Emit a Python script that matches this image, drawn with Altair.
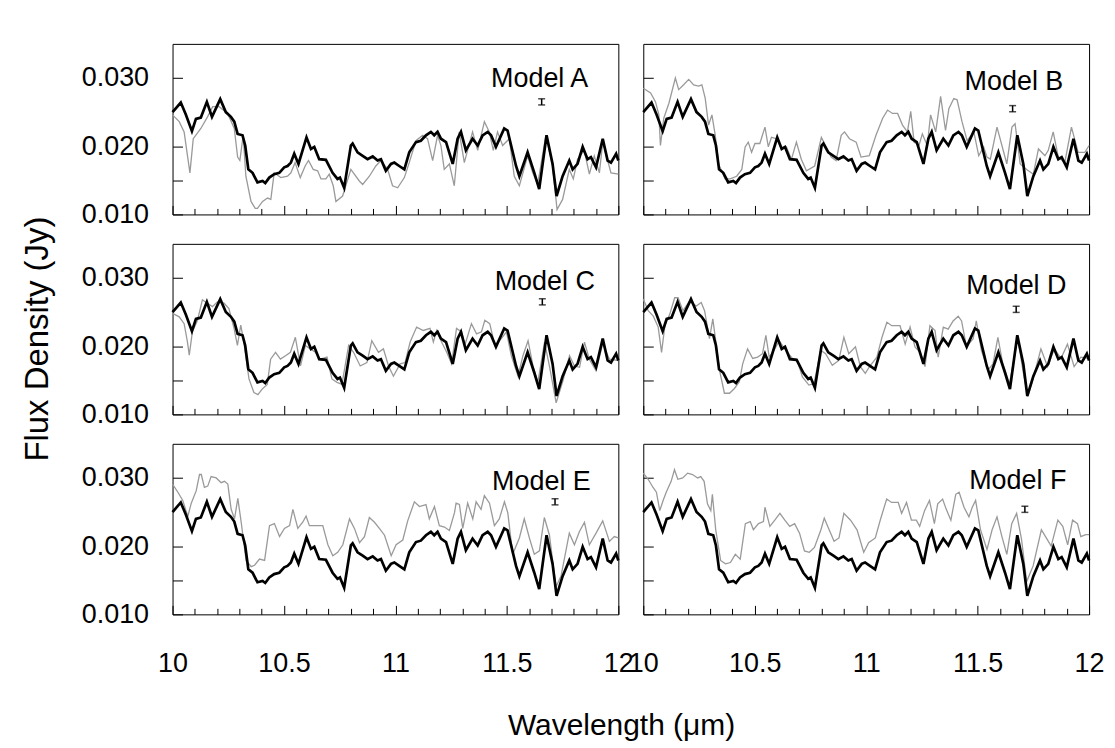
import altair as alt
import pandas as pd

FONT = "Liberation Sans"

obs_x = [10.000, 10.037, 10.060, 10.087, 10.105, 10.127, 10.154, 10.177, 10.214, 10.239,
         10.262, 10.277, 10.292, 10.314, 10.326, 10.340, 10.359, 10.381, 10.404, 10.416,
         10.434, 10.456, 10.479, 10.501, 10.516, 10.531, 10.546, 10.565, 10.601, 10.621,
         10.636, 10.658, 10.688, 10.718, 10.740, 10.751, 10.770, 10.800, 10.808, 10.830,
         10.853, 10.875, 10.898, 10.920, 10.935, 10.957, 10.980, 10.995, 11.017, 11.040,
         11.062, 11.092, 11.114, 11.137, 11.159, 11.174, 11.189, 11.204, 11.227, 11.257,
         11.279, 11.294, 11.316, 11.346, 11.369, 11.391, 11.414, 11.429, 11.451, 11.488,
         11.503, 11.541, 11.556, 11.593, 11.623, 11.645, 11.678, 11.705, 11.723, 11.750,
         11.780, 11.795, 11.817, 11.840, 11.862, 11.877, 11.900, 11.930, 11.952, 11.967,
         11.990, 12.000]
obs_y = [0.0250, 0.0264, 0.0246, 0.0222, 0.0240, 0.0242, 0.0265, 0.0243, 0.0269, 0.0250,
         0.0243, 0.0236, 0.0218, 0.0216, 0.0201, 0.0166, 0.0161, 0.0147, 0.0149, 0.0146,
         0.0154, 0.0159, 0.0161, 0.0169, 0.0171, 0.0176, 0.0189, 0.0174, 0.0213, 0.0196,
         0.0199, 0.0181, 0.0180, 0.0161, 0.0152, 0.0154, 0.0139, 0.0201, 0.0204, 0.0191,
         0.0186, 0.0181, 0.0185, 0.0179, 0.0181, 0.0164, 0.0174, 0.0176, 0.0171, 0.0166,
         0.0191, 0.0206, 0.0208, 0.0216, 0.0221, 0.0216, 0.0221, 0.0211, 0.0206, 0.0174,
         0.0211, 0.0221, 0.0194, 0.0211, 0.0201, 0.0216, 0.0221, 0.0216, 0.0199, 0.0226,
         0.0223, 0.0171, 0.0156, 0.0191, 0.0161, 0.0137, 0.0216, 0.0174, 0.0127, 0.0156,
         0.0179, 0.0166, 0.0174, 0.0199, 0.0181, 0.0184, 0.0169, 0.0211, 0.0179, 0.0176,
         0.0189, 0.0179]

# model spectra (grey)
a_x = [10.000, 10.030, 10.052, 10.078, 10.093, 10.127, 10.157, 10.180, 10.209, 10.247,
       10.277, 10.292, 10.302, 10.317, 10.329, 10.352, 10.371, 10.381, 10.404, 10.426,
       10.441, 10.456, 10.486, 10.516, 10.531, 10.550, 10.573, 10.595, 10.610, 10.631,
       10.651, 10.666, 10.688, 10.703, 10.721, 10.733, 10.763, 10.800, 10.838, 10.853,
       10.883, 10.912, 10.935, 10.965, 10.987, 11.010, 11.040, 11.062, 11.092, 11.122,
       11.144, 11.167, 11.189, 11.204, 11.219, 11.242, 11.264, 11.286, 11.309, 11.346,
       11.369, 11.399, 11.421, 11.439, 11.458, 11.481, 11.511, 11.533, 11.556, 11.593,
       11.616, 11.638, 11.675, 11.705, 11.725, 11.750, 11.780, 11.798, 11.817, 11.847,
       11.870, 11.892, 11.915, 11.930, 11.967, 12.000]
a_y = [0.0246, 0.0236, 0.0221, 0.0161, 0.0211, 0.0226, 0.0243, 0.0258, 0.0258, 0.0248,
       0.0226, 0.0184, 0.0179, 0.0216, 0.0156, 0.0119, 0.0109, 0.0109, 0.0119, 0.0124,
       0.0122, 0.0161, 0.0154, 0.0156, 0.0161, 0.0176, 0.0154, 0.0171, 0.0179, 0.0166,
       0.0164, 0.0152, 0.0152, 0.0159, 0.0142, 0.0119, 0.0127, 0.0166, 0.0149, 0.0144,
       0.0156, 0.0171, 0.0179, 0.0166, 0.0142, 0.0139, 0.0154, 0.0176, 0.0208, 0.0216,
       0.0211, 0.0179, 0.0216, 0.0201, 0.0166, 0.0174, 0.0142, 0.0221, 0.0176, 0.0221,
       0.0194, 0.0236, 0.0221, 0.0194, 0.0221, 0.0201, 0.0211, 0.0156, 0.0142, 0.0186,
       0.0161, 0.0144, 0.0216, 0.0171, 0.0107, 0.0122, 0.0166, 0.0152, 0.0181, 0.0194,
       0.0159, 0.0186, 0.0161, 0.0206, 0.0161, 0.0159]

b_x = [10.000, 10.033, 10.055, 10.070, 10.077, 10.092, 10.115, 10.144, 10.159, 10.181,
       10.204, 10.226, 10.248, 10.263, 10.278, 10.293, 10.308, 10.323, 10.338, 10.367,
       10.390, 10.419, 10.442, 10.457, 10.471, 10.486, 10.501, 10.523, 10.546, 10.561,
       10.575, 10.598, 10.620, 10.642, 10.665, 10.687, 10.709, 10.732, 10.769, 10.799,
       10.821, 10.843, 10.865, 10.888, 10.903, 10.925, 10.955, 10.977, 11.014, 11.044,
       11.074, 11.096, 11.118, 11.141, 11.163, 11.185, 11.200, 11.215, 11.237, 11.252,
       11.274, 11.289, 11.312, 11.334, 11.356, 11.371, 11.393, 11.408, 11.430, 11.453,
       11.483, 11.505, 11.527, 11.542, 11.557, 11.587, 11.609, 11.631, 11.654, 11.668,
       11.691, 11.720, 11.750, 11.773, 11.802, 11.817, 11.839, 11.862, 11.891, 11.921,
       11.951, 11.981, 12.000]
b_y = [0.0285, 0.0278, 0.0265, 0.0246, 0.0201, 0.0241, 0.0263, 0.0300, 0.0283, 0.0290,
       0.0298, 0.0290, 0.0288, 0.0290, 0.0270, 0.0231, 0.0246, 0.0216, 0.0174, 0.0152,
       0.0152, 0.0156, 0.0166, 0.0199, 0.0206, 0.0191, 0.0204, 0.0204, 0.0228, 0.0199,
       0.0213, 0.0211, 0.0196, 0.0199, 0.0181, 0.0206, 0.0181, 0.0164, 0.0171, 0.0213,
       0.0199, 0.0184, 0.0179, 0.0216, 0.0221, 0.0211, 0.0206, 0.0184, 0.0186, 0.0216,
       0.0241, 0.0253, 0.0248, 0.0248, 0.0231, 0.0221, 0.0251, 0.0206, 0.0201, 0.0218,
       0.0201, 0.0246, 0.0221, 0.0273, 0.0223, 0.0255, 0.0270, 0.0268, 0.0236, 0.0208,
       0.0221, 0.0186, 0.0199, 0.0184, 0.0181, 0.0228, 0.0201, 0.0174, 0.0228, 0.0233,
       0.0174, 0.0166, 0.0159, 0.0196, 0.0186, 0.0194, 0.0221, 0.0184, 0.0176, 0.0228,
       0.0191, 0.0191, 0.0201]

c_x = [10.000, 10.030, 10.052, 10.067, 10.075, 10.089, 10.112, 10.134, 10.156, 10.179,
       10.201, 10.231, 10.253, 10.276, 10.291, 10.306, 10.320, 10.343, 10.365, 10.383,
       10.402, 10.425, 10.440, 10.462, 10.484, 10.507, 10.529, 10.551, 10.574, 10.596,
       10.618, 10.641, 10.663, 10.693, 10.715, 10.738, 10.760, 10.790, 10.812, 10.842,
       10.872, 10.894, 10.924, 10.946, 10.969, 10.991, 11.021, 11.043, 11.066, 11.095,
       11.125, 11.155, 11.170, 11.185, 11.207, 11.230, 11.252, 11.274, 11.297, 11.311,
       11.341, 11.364, 11.386, 11.401, 11.423, 11.446, 11.475, 11.498, 11.520, 11.550,
       11.572, 11.595, 11.617, 11.639, 11.669, 11.692, 11.721, 11.751, 11.781, 11.803,
       11.826, 11.848, 11.870, 11.900, 11.930, 11.960, 12.000]
c_y = [0.0248, 0.0243, 0.0233, 0.0206, 0.0187, 0.0221, 0.0238, 0.0268, 0.0263, 0.0258,
       0.0265, 0.0263, 0.0255, 0.0226, 0.0201, 0.0231, 0.0206, 0.0152, 0.0132, 0.0129,
       0.0137, 0.0144, 0.0181, 0.0191, 0.0181, 0.0186, 0.0191, 0.0213, 0.0171, 0.0201,
       0.0196, 0.0191, 0.0181, 0.0184, 0.0152, 0.0147, 0.0144, 0.0201, 0.0191, 0.0171,
       0.0176, 0.0208, 0.0191, 0.0196, 0.0171, 0.0156, 0.0174, 0.0176, 0.0206, 0.0228,
       0.0223, 0.0226, 0.0206, 0.0223, 0.0206, 0.0191, 0.0174, 0.0226, 0.0221, 0.0201,
       0.0233, 0.0218, 0.0221, 0.0238, 0.0233, 0.0201, 0.0211, 0.0221, 0.0186, 0.0156,
       0.0186, 0.0208, 0.0171, 0.0147, 0.0206, 0.0169, 0.0117, 0.0149, 0.0186, 0.0171,
       0.0169, 0.0206, 0.0181, 0.0164, 0.0204, 0.0181, 0.0179]

d_x = [10.000, 10.022, 10.045, 10.067, 10.082, 10.097, 10.119, 10.141, 10.156, 10.178,
       10.208, 10.238, 10.260, 10.275, 10.297, 10.312, 10.327, 10.342, 10.364, 10.387,
       10.409, 10.431, 10.446, 10.468, 10.491, 10.513, 10.535, 10.550, 10.565, 10.587,
       10.610, 10.639, 10.669, 10.691, 10.714, 10.743, 10.766, 10.796, 10.818, 10.848,
       10.877, 10.900, 10.922, 10.952, 10.974, 10.996, 11.019, 11.048, 11.071, 11.093,
       11.115, 11.152, 11.175, 11.197, 11.219, 11.242, 11.264, 11.286, 11.309, 11.323,
       11.346, 11.368, 11.390, 11.413, 11.428, 11.450, 11.480, 11.494, 11.517, 11.546,
       11.569, 11.591, 11.613, 11.643, 11.665, 11.680, 11.703, 11.725, 11.747, 11.784,
       11.814, 11.844, 11.874, 11.903, 11.933, 11.963, 12.000]
d_y = [0.0269, 0.0252, 0.0244, 0.0228, 0.0191, 0.0230, 0.0247, 0.0271, 0.0271, 0.0252,
       0.0266, 0.0259, 0.0264, 0.0252, 0.0211, 0.0240, 0.0203, 0.0165, 0.0131, 0.0131,
       0.0138, 0.0148, 0.0174, 0.0196, 0.0182, 0.0184, 0.0189, 0.0216, 0.0184, 0.0194,
       0.0208, 0.0194, 0.0182, 0.0179, 0.0155, 0.0143, 0.0145, 0.0194, 0.0189, 0.0172,
       0.0179, 0.0213, 0.0189, 0.0199, 0.0170, 0.0160, 0.0172, 0.0184, 0.0213, 0.0235,
       0.0230, 0.0230, 0.0203, 0.0228, 0.0199, 0.0191, 0.0170, 0.0230, 0.0223, 0.0184,
       0.0228, 0.0225, 0.0237, 0.0244, 0.0237, 0.0199, 0.0211, 0.0237, 0.0194, 0.0165,
       0.0174, 0.0213, 0.0174, 0.0145, 0.0184, 0.0213, 0.0165, 0.0126, 0.0150, 0.0196,
       0.0170, 0.0196, 0.0182, 0.0203, 0.0170, 0.0184, 0.0182]

e_x = [10.000, 10.024, 10.046, 10.061, 10.069, 10.084, 10.106, 10.121, 10.129, 10.143,
       10.158, 10.173, 10.196, 10.218, 10.233, 10.248, 10.263, 10.278, 10.293, 10.308,
       10.330, 10.353, 10.368, 10.390, 10.413, 10.435, 10.457, 10.480, 10.502, 10.525,
       10.540, 10.562, 10.584, 10.599, 10.614, 10.644, 10.674, 10.697, 10.719, 10.741,
       10.764, 10.794, 10.816, 10.839, 10.861, 10.883, 10.906, 10.928, 10.951, 10.981,
       11.003, 11.033, 11.055, 11.085, 11.108, 11.137, 11.152, 11.175, 11.197, 11.220,
       11.242, 11.265, 11.272, 11.287, 11.302, 11.324, 11.347, 11.362, 11.384, 11.399,
       11.422, 11.444, 11.466, 11.489, 11.504, 11.526, 11.556, 11.578, 11.601, 11.623,
       11.646, 11.668, 11.691, 11.720, 11.743, 11.780, 11.803, 11.825, 11.848, 11.870,
       11.900, 11.930, 11.960, 11.982, 12.000]
e_y = [0.0291, 0.0279, 0.0267, 0.0251, 0.0244, 0.0263, 0.0281, 0.0305, 0.0305, 0.0286,
       0.0288, 0.0302, 0.0300, 0.0293, 0.0295, 0.0291, 0.0254, 0.0240, 0.0270, 0.0235,
       0.0179, 0.0170, 0.0172, 0.0181, 0.0179, 0.0230, 0.0233, 0.0214, 0.0226, 0.0230,
       0.0254, 0.0226, 0.0235, 0.0244, 0.0230, 0.0230, 0.0230, 0.0202, 0.0186, 0.0191,
       0.0202, 0.0240, 0.0226, 0.0205, 0.0214, 0.0242, 0.0235, 0.0226, 0.0216, 0.0186,
       0.0202, 0.0209, 0.0237, 0.0265, 0.0258, 0.0261, 0.0240, 0.0258, 0.0230, 0.0228,
       0.0223, 0.0249, 0.0263, 0.0261, 0.0226, 0.0263, 0.0240, 0.0265, 0.0254, 0.0274,
       0.0263, 0.0230, 0.0240, 0.0265, 0.0249, 0.0188, 0.0212, 0.0240, 0.0212, 0.0188,
       0.0193, 0.0242, 0.0216, 0.0140, 0.0156, 0.0219, 0.0202, 0.0221, 0.0235, 0.0202,
       0.0219, 0.0237, 0.0207, 0.0214, 0.0212]

f_x = [10.000, 10.022, 10.044, 10.059, 10.074, 10.089, 10.103, 10.125, 10.140, 10.155,
       10.177, 10.199, 10.221, 10.244, 10.258, 10.273, 10.288, 10.303, 10.310, 10.325,
       10.347, 10.369, 10.391, 10.413, 10.435, 10.458, 10.480, 10.494, 10.517, 10.539,
       10.546, 10.568, 10.590, 10.613, 10.635, 10.657, 10.679, 10.701, 10.723, 10.745,
       10.768, 10.797, 10.812, 10.834, 10.856, 10.878, 10.900, 10.930, 10.959, 10.989,
       11.011, 11.041, 11.063, 11.092, 11.114, 11.144, 11.159, 11.181, 11.203, 11.225,
       11.240, 11.262, 11.284, 11.306, 11.321, 11.343, 11.358, 11.380, 11.402, 11.417,
       11.439, 11.461, 11.476, 11.491, 11.513, 11.542, 11.565, 11.587, 11.609, 11.631,
       11.653, 11.675, 11.697, 11.720, 11.749, 11.786, 11.808, 11.830, 11.860, 11.882,
       11.904, 11.926, 11.948, 11.963, 11.985, 12.000]
f_y = [0.0307, 0.0298, 0.0286, 0.0279, 0.0252, 0.0267, 0.0279, 0.0295, 0.0312, 0.0298,
       0.0300, 0.0307, 0.0305, 0.0300, 0.0302, 0.0295, 0.0262, 0.0252, 0.0276, 0.0224,
       0.0179, 0.0174, 0.0176, 0.0188, 0.0181, 0.0233, 0.0236, 0.0224, 0.0233, 0.0236,
       0.0257, 0.0229, 0.0238, 0.0248, 0.0238, 0.0229, 0.0233, 0.0219, 0.0193, 0.0191,
       0.0198, 0.0224, 0.0241, 0.0224, 0.0207, 0.0212, 0.0248, 0.0238, 0.0224, 0.0191,
       0.0205, 0.0212, 0.0238, 0.0269, 0.0264, 0.0264, 0.0248, 0.0264, 0.0238, 0.0238,
       0.0229, 0.0252, 0.0267, 0.0233, 0.0262, 0.0269, 0.0255, 0.0238, 0.0276, 0.0279,
       0.0257, 0.0243, 0.0257, 0.0267, 0.0224, 0.0195, 0.0224, 0.0243, 0.0214, 0.0188,
       0.0233, 0.0248, 0.0210, 0.0148, 0.0171, 0.0224, 0.0212, 0.0200, 0.0238, 0.0229,
       0.0202, 0.0238, 0.0233, 0.0214, 0.0217, 0.0217]

model_names = ["Model A", "Model B", "Model C", "Model D", "Model E", "Model F"]
model_x = [a_x, b_x, c_x, d_x, e_x, f_x]
model_y = [a_y, b_y, c_y, d_y, e_y, f_y]

# error bar centres and half-height
err_x = [11.656, 11.657, 11.659, 11.673, 11.716, 11.712]
err_y = [0.0265, 0.0255, 0.0265, 0.0254, 0.0265, 0.0254]
err_half = 0.00045

# label anchor (baseline centre) in data units
label_x = [11.647, 11.663, 11.670, 11.674, 11.655, 11.680]
label_y = [0.0287, 0.0282, 0.0283, 0.0276, 0.0282, 0.0284]

# axis tick positions
x_ticks = [10.0, 10.1, 10.2, 10.3, 10.4, 10.5, 10.6, 10.7, 10.8, 10.9, 11.0,
           11.1, 11.2, 11.3, 11.4, 11.5, 11.6, 11.7, 11.8, 11.9, 12.0]
y_ticks = [0.010, 0.015, 0.020, 0.030]
x_domain = [10, 12]
y_domain = [0.010, 0.035]

W, H = 447, 171
MAJ, MIN = 9, 6
is_major = "abs(datum.value * 2 - round(datum.value * 2)) < 0.001"


def panel(i, show_y_labels, show_x_labels, show_y_title):
    xaxis = alt.Axis(
        values=x_ticks, format=".1~f", grid=True,
        gridColor="black", gridOpacity=1, gridWidth=1,
        gridDash={"condition": {"test": is_major, "value": [MAJ, H - MAJ]}, "value": [MIN, H - MIN]},
        gridDashOffset={"condition": {"test": is_major, "value": MAJ}, "value": MIN},
        ticks=False, domain=False, labels=show_x_labels,
        labelExpr=f"{is_major} ? datum.label : ''",
        labelFlush=False, labelOverlap=False, labelFont=FONT, labelFontSize=27,
        labelColor="black", labelPadding=36, title=None)
    ykw = dict(
        values=y_ticks, format=".3f", grid=True,
        gridColor="black", gridOpacity=1, gridWidth=1, gridDash=[10, 1000],
        ticks=False, domain=False, labels=show_y_labels,
        labelExpr="abs(datum.value - 0.015) < 0.0001 ? '' : datum.label",
        labelFlush=False, labelOverlap=False, labelFont=FONT, labelFontSize=27,
        labelColor="black", labelPadding=24)
    if show_y_title:
        ykw.update(title="Flux Density (Jy)", titleFont=FONT, titleFontSize=33,
                   titleFontWeight="normal", titleColor="black", titlePadding=27, titleY=95)
    else:
        ykw.update(title=None)
    yaxis = alt.Axis(**ykw)
    xs = alt.Scale(domain=x_domain, nice=False, zero=False)
    ys = alt.Scale(domain=y_domain, nice=False, zero=False)
    X = alt.X("x:Q", scale=xs, axis=xaxis)
    Y = alt.Y("y:Q", scale=ys, axis=yaxis)

    df_obs = pd.DataFrame({"x": obs_x, "y": obs_y})
    df_mod = pd.DataFrame({"x": model_x[i], "y": model_y[i]})
    df_err = pd.DataFrame({"x": [err_x[i]], "y": [err_y[i] - err_half], "y2": [err_y[i] + err_half]})
    df_cap = pd.DataFrame({"x": [err_x[i]] * 2, "y": [err_y[i] - err_half, err_y[i] + err_half]})
    df_lab = pd.DataFrame({"x": [label_x[i]], "y": [label_y[i]], "t": [model_names[i]]})

    grey = alt.Chart(df_mod).mark_line(color="#9a9a9a", strokeWidth=1.3).encode(x=X, y=Y, order="x:Q")
    black = alt.Chart(df_obs).mark_line(color="black", strokeWidth=2.7).encode(x=X, y=Y, order="x:Q")
    stem = alt.Chart(df_err).mark_rule(color="black", strokeWidth=1.5).encode(x=X, y=Y, y2="y2:Q")
    caps = alt.Chart(df_cap).mark_tick(color="black", orient="horizontal", size=7, thickness=1.5).encode(x=X, y=Y)
    text = alt.Chart(df_lab).mark_text(font=FONT, fontSize=27, color="black", align="center",
                                       baseline="alphabetic").encode(x=X, y=Y, text="t:N")
    return alt.layer(grey, black, stem, caps, text).properties(width=W, height=H)


# two columns of panels; "flush" stacks the panels by their plot height only
left_col = alt.vconcat(panel(0, True, False, False),
                       panel(2, True, False, True),
                       panel(4, True, True, False), spacing=29.5, bounds="flush")
right_col = alt.vconcat(panel(1, False, False, False),
                        panel(3, False, False, False),
                        panel(5, False, True, False), spacing=29.5, bounds="flush")

chart = alt.hconcat(left_col, right_col, spacing=-7).properties(
    title=alt.TitleParams(text="Wavelength (μm)", orient="bottom", anchor="middle",
                          font=FONT, fontSize=30, fontWeight="normal", color="black",
                          offset=34, dx=59),
    padding={"left": 20, "top": 42, "right": 10, "bottom": 4},
    background="white",
).configure_view(stroke="black", strokeWidth=1)

chart.save("out.html", embed_options={"renderer": "svg", "actions": False})
